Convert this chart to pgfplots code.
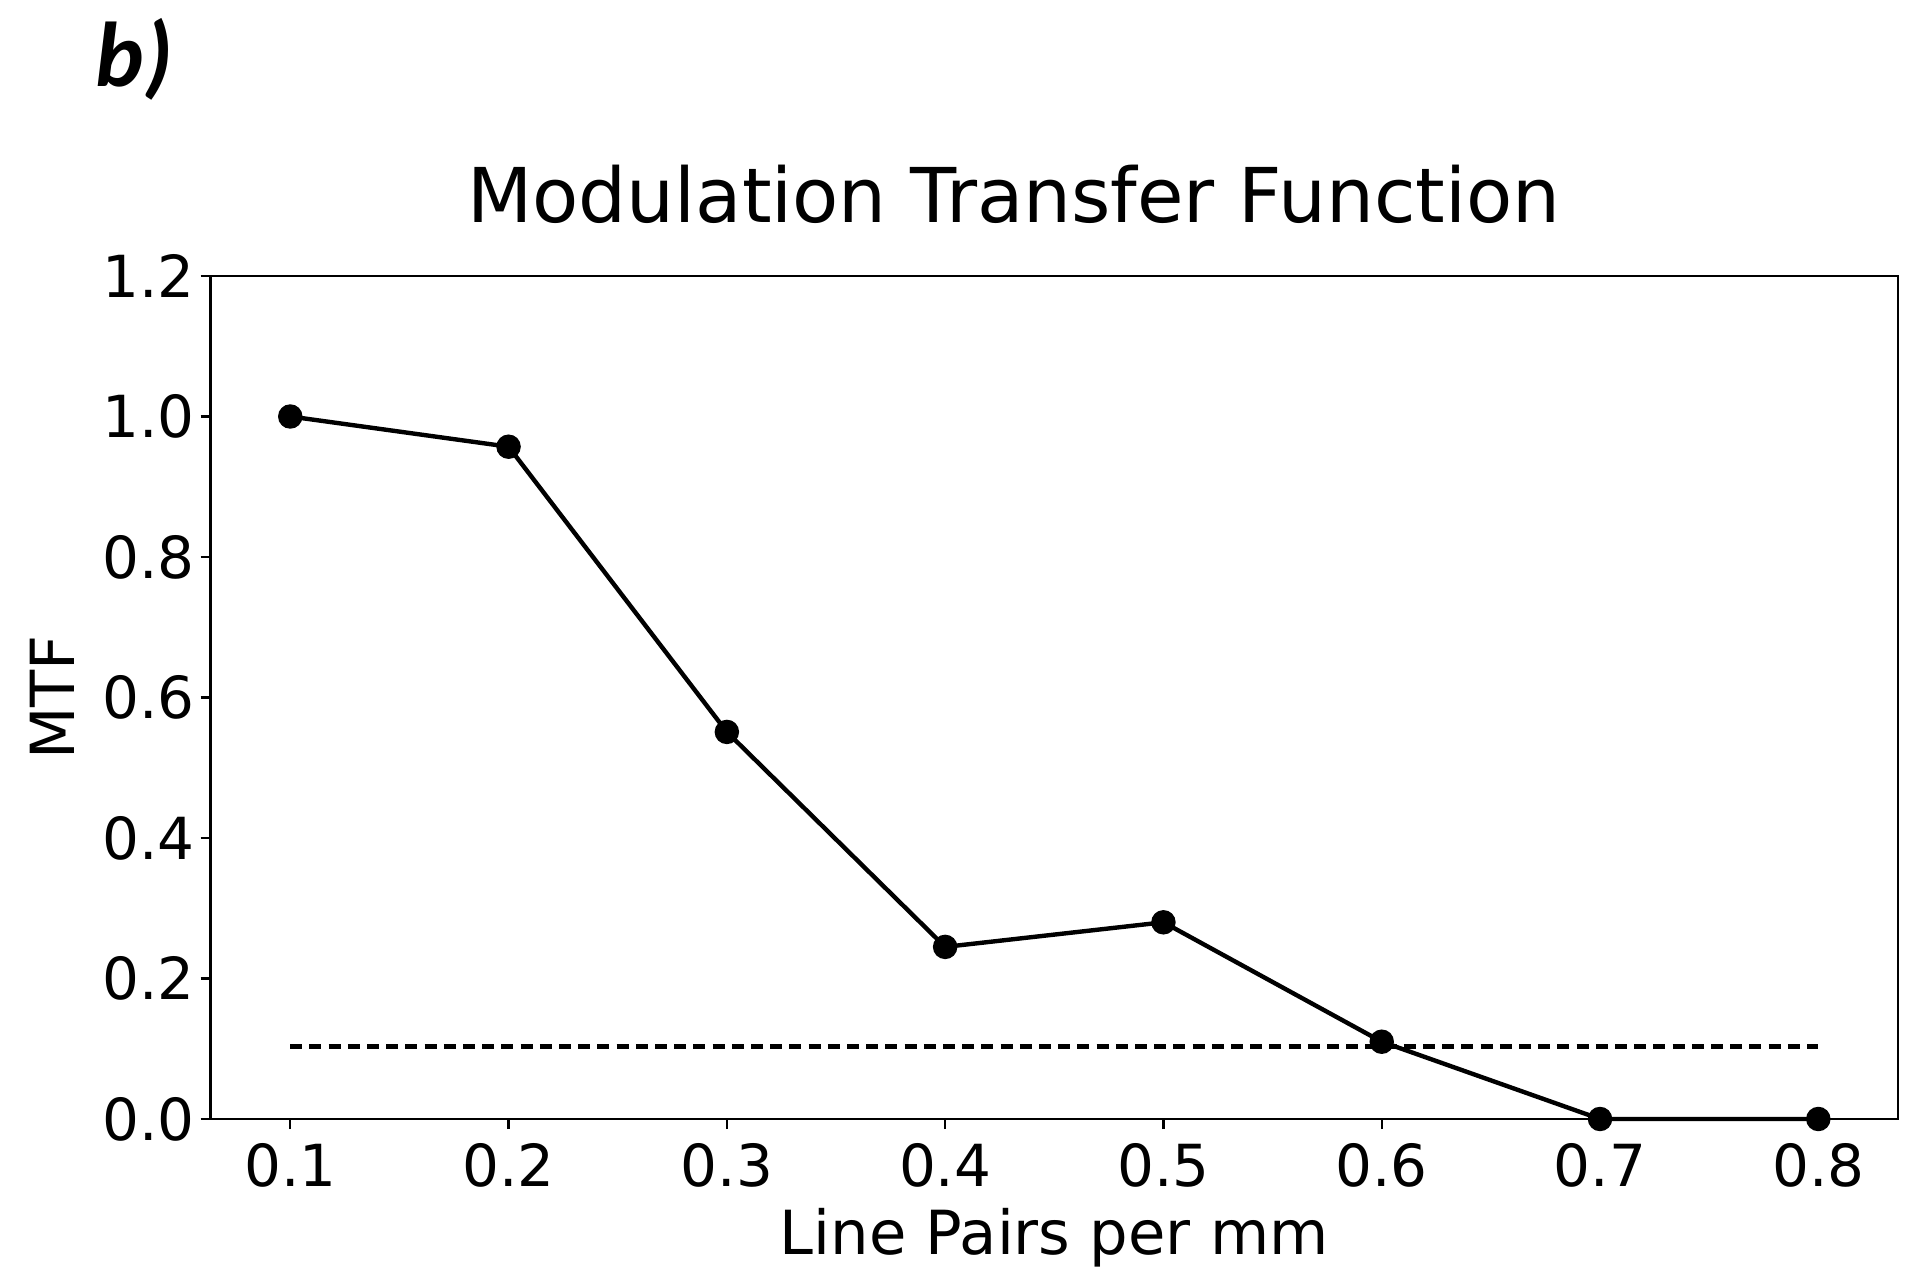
\documentclass[border=0pt]{standalone}
\usepackage{pgfplots}
\pgfplotsset{compat=1.18}
\usepackage{fontspec}
\setmainfont{DejaVu Sans}
\newfontfamily\labelfont{Carlito}
\begin{document}
\begin{tikzpicture}
\path[use as bounding box] (-52.65pt,-42pt) rectangle (427.35pt,279.75pt);
\begin{axis}[
    scale only axis,
    width=421.85pt, height=210.75pt,
    at={(0,0)}, anchor=south west,
    xmin=0.0635, xmax=0.8365,
    ymin=0, ymax=1.2,
    xtick={0.1,0.2,...,0.8},
    ytick={0,0.2,...,1.2},
    xticklabel style={/pgf/number format/.cd, fixed, fixed zerofill, precision=1},
    yticklabel style={xshift=2pt, /pgf/number format/.cd, fixed, fixed zerofill, precision=1},
    /pgf/number format/assume math mode=true,
    tick label style={font=\fontsize{14.5}{16}\selectfont},
    tick align=outside, tick pos=left,
    major tick length=2.5pt,
    axis line style={line width=0.6pt},
    every tick/.style={black, line width=0.6pt},
    xlabel={Line Pairs per mm},
    ylabel={MTF},
    label style={font=\fontsize{15.2}{17}\selectfont},
    xlabel style={at={(rel axis cs:0.5,0)}, anchor=center, yshift=-29.75pt},
    ylabel style={at={(axis description cs:-0.094,0.5)}, anchor=center},
    title={Modulation Transfer Function},
    title style={font=\fontsize{18.9}{22}\selectfont, at={(rel axis cs:0.476,1)}, anchor=center, yshift=14.5pt},
    clip=false,
]
\addplot[black, line width=1.1pt, mark=*, mark size=2.5pt] coordinates {
    (0.1,1.0) (0.2,0.957) (0.3,0.551) (0.4,0.245) (0.5,0.28) (0.6,0.11) (0.7,0.0) (0.8,0.0)
};
\addplot[black, line width=1.1pt, dash pattern=on 3pt off 1.8pt] coordinates {
    (0.1,0.103) (0.8,0.103)
};
\end{axis}
\node[font=\labelfont\bfseries\itshape\fontsize{23}{25}\selectfont] at (-19pt,265pt) {b)};
\end{tikzpicture}
\end{document}
